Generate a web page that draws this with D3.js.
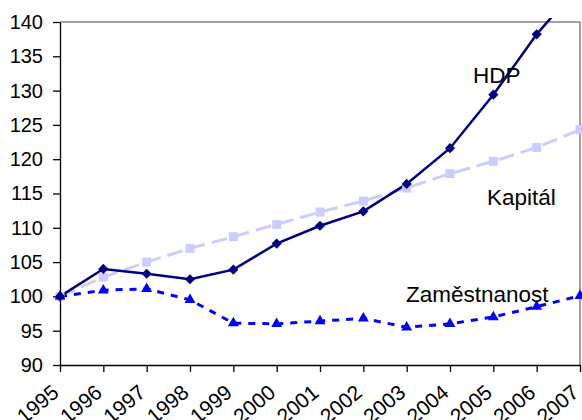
<!DOCTYPE html>
<html>
<head>
<meta charset="utf-8">
<script src="https://cdn.jsdelivr.net/npm/d3@7"></script>
<style>
  body { margin: 0; background: #fff; }
  text { font-family: "Liberation Sans", Arial, sans-serif; fill: #000; }
</style>
</head>
<body>
<div id="chart"></div>
<script>
// data (index, 1995 = 100)
const years = [1995, 1996, 1997, 1998, 1999, 2000, 2001, 2002, 2003, 2004, 2005, 2006, 2007];
const hdp = [100, 104.0, 103.3, 102.5, 103.9, 107.7, 110.3, 112.4, 116.4, 121.6, 129.4, 138.2, 145.5];
const kapital = [100, 102.8, 105.0, 107.0, 108.7, 110.5, 112.3, 113.9, 115.8, 117.9, 119.7, 121.7, 124.3];
const zamestnanost = [100, 100.9, 101.1, 99.5, 96.1, 96.0, 96.4, 96.8, 95.5, 96.0, 97.0, 98.5, 100.1];
const yTicks = [90, 95, 100, 105, 110, 115, 120, 125, 130, 135, 140];

const W = 582, H = 420;
const margin = {top: 22, right: 2, bottom: 55, left: 60};
const width = W - margin.left - margin.right;
const height = H - margin.top - margin.bottom;

const svg = d3.select("#chart").append("svg")
    .attr("width", W)
    .attr("height", H);

const x = d3.scaleLinear().domain([1995, 2007]).range([margin.left, margin.left + width]);
const y = d3.scaleLinear().domain([90, 140]).range([margin.top + height, margin.top]);

svg.append("clipPath").attr("id", "clip")
  .append("rect")
    .attr("x", 0).attr("y", margin.top - 4)
    .attr("width", W).attr("height", height + 4);

// frame: grey top and right
svg.append("line")
    .attr("x1", x(1995)).attr("x2", x(2007))
    .attr("y1", y(140)).attr("y2", y(140))
    .attr("stroke", "#808080").attr("stroke-width", 1.5);
svg.append("line")
    .attr("x1", x(2007)).attr("x2", x(2007))
    .attr("y1", y(140)).attr("y2", y(90))
    .attr("stroke", "#808080").attr("stroke-width", 1.5);

// axes
const yAxis = svg.append("g")
    .attr("transform", "translate(" + margin.left + ",0)")
    .call(d3.axisLeft(y).tickValues(yTicks).tickSize(7).tickPadding(10).tickSizeOuter(0));
yAxis.selectAll("text").style("font-size", "20px");

// rotated year labels, cut by the bottom edge as in the original
const xAxis = svg.append("g")
    .attr("transform", "translate(0," + (margin.top + height) + ")")
    .call(d3.axisBottom(x).tickValues(years).tickFormat(d3.format("d")).tickSize(7).tickSizeOuter(0));
xAxis.selectAll("text")
    .style("font-size", "21px")
    .attr("text-anchor", "end")
    .attr("x", 0).attr("y", 0)
    .attr("dy", "0.35em")
    .attr("transform", "translate(-5,24) rotate(-40)");

svg.selectAll(".domain, .tick line").attr("stroke", "#000").attr("stroke-width", 1.3);

const plot = svg.append("g").attr("clip-path", "url(#clip)");

function series(values, color, width, dash) {
    const line = d3.line()
        .x((d, i) => x(years[i]))
        .y(d => y(d));
    plot.append("path")
        .datum(values)
        .attr("d", line)
        .attr("fill", "none")
        .attr("stroke", color)
        .attr("stroke-width", width)
        .attr("stroke-dasharray", dash);
}

series(kapital, "#CCCCFF", 3, "16,7");
series(zamestnanost, "#0000FF", 3, "7,7");
series(hdp, "#000080", 2.5, null);

// markers
plot.selectAll(".sq").data(kapital).enter().append("rect")
    .attr("x", (d, i) => x(years[i]) - 4.5)
    .attr("y", d => y(d) - 4.5)
    .attr("width", 9).attr("height", 9)
    .attr("fill", "#CCCCFF");

plot.selectAll(".tri").data(zamestnanost).enter().append("path")
    .attr("transform", (d, i) => "translate(" + x(years[i]) + "," + y(d) + ")")
    .attr("d", d3.symbol().type(d3.symbolTriangle).size(52))
    .attr("fill", "#0000FF");

plot.selectAll(".dia").data(hdp).enter().append("path")
    .attr("transform", (d, i) => "translate(" + x(years[i]) + "," + y(d) + ") rotate(45)")
    .attr("d", d3.symbol().type(d3.symbolSquare).size(52))
    .attr("fill", "#000080");

// series labels
svg.append("text").attr("x", 473).attr("y", 83).style("font-size", "22.5px").text("HDP");
svg.append("text").attr("x", 487).attr("y", 205).style("font-size", "22.5px").text("Kapitál");
svg.append("text").attr("x", 406).attr("y", 302).style("font-size", "22.5px").text("Zaměstnanost");
</script>
</body>
</html>
